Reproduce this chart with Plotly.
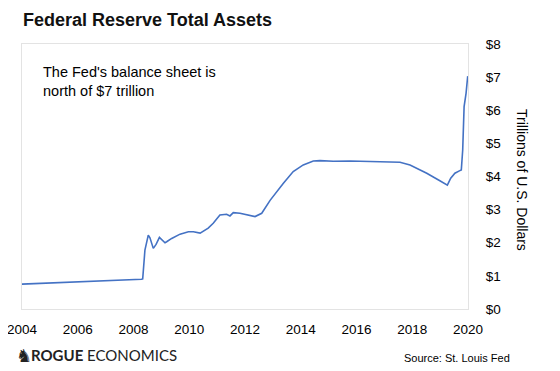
import plotly.graph_objects as go

# Federal Reserve total assets (trillions USD)
years = [2004.00, 2005.00, 2006.08, 2007.16, 2008.29, 2008.33, 2008.41, 2008.53, 2008.59,
         2008.71, 2008.81, 2008.93, 2009.01, 2009.13, 2009.19, 2009.37, 2009.67, 2009.97,
         2010.15, 2010.39, 2010.68, 2010.86, 2011.10, 2011.34, 2011.46, 2011.58, 2011.82,
         2012.12, 2012.36, 2012.60, 2012.90, 2013.37, 2013.73, 2014.09, 2014.45, 2014.69,
         2015.17, 2015.77, 2016.37, 2016.72, 2017.56, 2017.92, 2018.52, 2018.99, 2019.26,
         2019.38, 2019.53, 2019.69, 2019.76, 2019.81, 2019.86, 2019.93, 2019.99]
assets = [0.75, 0.78, 0.82, 0.86, 0.90, 0.91, 1.78, 2.23, 2.15,
          1.83, 1.95, 2.16, 2.10, 2.00, 2.03, 2.13, 2.26, 2.33,
          2.33, 2.29, 2.44, 2.59, 2.84, 2.86, 2.81, 2.91, 2.89,
          2.84, 2.79, 2.89, 3.28, 3.79, 4.15, 4.35, 4.47, 4.48,
          4.46, 4.47, 4.45, 4.44, 4.43, 4.35, 4.10, 3.87, 3.74,
          3.95, 4.10, 4.17, 4.20, 4.80, 6.11, 6.51, 7.03]

x_ticks = list(range(2004, 2021, 2))
x_tick_labels = [str(v) for v in x_ticks]
y_ticks = list(range(0, 9))
y_tick_labels = ["$" + str(v) for v in y_ticks]

# the page body adds an 8px offset; size the figure so the window shows it fully
OFF = 8
W, H = 560 - OFF, 371 - OFF
L, T = 22 - OFF, 44 - OFF
PW, PH = 446, 265
R, B = W - L - PW, H - T - PH

def px(x):  # screen pixel -> paper x
    return (x - OFF - L) / PW

def py(y):  # screen pixel -> paper y
    return (T + PH - (y - OFF)) / PH

FONT = "Liberation Sans, Arial, sans-serif"

fig = go.Figure()
fig.add_trace(go.Scatter(x=years, y=assets, mode="lines",
                         line=dict(color="#4472C4", width=1.6),
                         hoverinfo="skip", showlegend=False))

fig.update_layout(
    width=W, height=H,
    margin=dict(l=L, r=R, t=T, b=B, autoexpand=False),
    paper_bgcolor="white", plot_bgcolor="white",
    font=dict(family=FONT, color="#000000"),
    xaxis=dict(range=[2004, 2020], tickvals=x_ticks, ticktext=x_tick_labels,
               showgrid=False, zeroline=False, showline=True, mirror=True,
               linecolor="#e3e3e3", linewidth=1, ticks="", automargin=False,
               tickfont=dict(size=13.5, family=FONT, color="#000"),
               ticklabelstandoff=8, ticklabeloverflow="allow"),
    yaxis=dict(range=[0, 8], tickvals=y_ticks, ticktext=y_tick_labels, side="right",
               showgrid=False, zeroline=False, showline=True, mirror=True,
               linecolor="#e3e3e3", linewidth=1, ticks="", automargin=False,
               tickfont=dict(size=13.5, family=FONT, color="#000"),
               ticklabelstandoff=14, ticklabeloverflow="allow"),
)

ann = []
ann.append(dict(text="<b>Federal Reserve Total Assets</b>", x=px(21), y=py(20),
                xanchor="left", yanchor="middle",
                font=dict(size=18, family=FONT, color="#111")))
ann.append(dict(text="The Fed's balance sheet is<br>north of $7 trillion", x=px(41), y=py(81),
                xanchor="left", yanchor="middle", align="left",
                font=dict(size=14.5, family=FONT, color="#000")))
ann.append(dict(text="Trillions of U.S. Dollars", x=px(522), y=py(180), textangle=90,
                xanchor="center", yanchor="middle",
                font=dict(size=14, family=FONT, color="#000")))
ann.append(dict(text="\u265E", x=px(14), y=py(355), xanchor="left", yanchor="middle",
                font=dict(size=18, family="DejaVu Sans", color="#222")))
ann.append(dict(text="<b>ROGUE</b> ECONOMICS", x=px(29), y=py(355), xanchor="left", yanchor="middle",
                font=dict(size=15, family="Lato, Open Sans, sans-serif", color="#222")))
ann.append(dict(text="Source: St. Louis Fed", x=px(512), y=py(358), xanchor="right", yanchor="middle",
                font=dict(size=11, family=FONT, color="#000")))
for a in ann:
    a.update(xref="paper", yref="paper", showarrow=False)
fig.update_layout(annotations=ann)

fig.write_html("out.html")
